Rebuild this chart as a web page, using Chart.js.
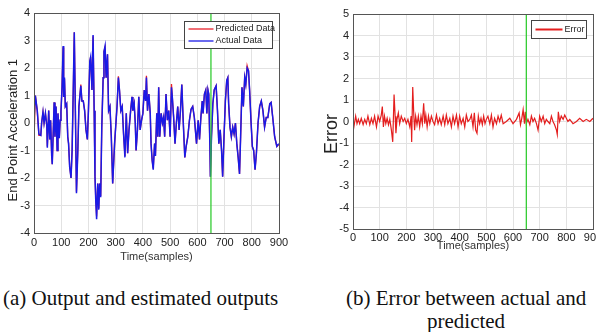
<!DOCTYPE html>
<html>
<head>
<meta charset="utf-8">
<script src="https://cdn.jsdelivr.net/npm/chart.js@4.4.1/dist/chart.umd.min.js"></script>
<style>
  html, body { margin:0; padding:0; background:#fff; overflow:hidden; width:596px; height:332px; }
  canvas { position:absolute; }
  #c1 { left:0; top:0; }
  #c2 { left:300px; top:0; }
  .cap { position:absolute; font-family:"Liberation Serif", "Times New Roman", serif; font-size:21px; line-height:21px; color:#111; white-space:nowrap; }
</style>
</head>
<body>
<canvas id="c1" width="292" height="265"></canvas>
<canvas id="c2" width="310" height="254"></canvas>
<div class="cap" style="left:3px; top:288px;">(a) Output and estimated outputs</div>
<div class="cap" style="left:346px; top:288px;">(b) Error between actual and</div>
<div class="cap" style="left:427px; top:311px;">predicted</div>
<script>
// samples
var samples = [0,5,12,18,25,28,33,37,42,47,49,54,58,61,65,67,74,77,81,85,88,93,96,99,103,107,109,112,115,120,
  124,127,131,136,140,145,148,152,156,161,165,172,176,181,186,191,196,200,205,208,213,217,221,224,227,230,234,238,241,245,
  249,254,257,261,265,270,274,279,284,289,296,305,310,314,319,324,329,334,339,344,349,355,360,363,368,372,375,380,385,390,
  395,400,405,410,413,417,422,427,430,434,438,443,446,451,455,458,462,467,472,476,480,485,490,495,500,505,508,513,518,523,
  528,533,538,543,548,554,559,565,571,577,583,589,597,603,608,613,618,621,626,631,635,639,642,646,648,652,657,662,669,674,
  679,684,689,693,698,703,708,712,715,720,725,730,735,740,745,750,755,759,764,769,774,778,783,788,792,797,802,807,812,817,
  823,829,835,841,847,853,859,866,871,877,884,892,899]

var actual = [0.1,1.0,0.45,-0.4,-0.45,0,0.4,0,0.35,-0.1,-0.9,0.45,-0.6,0.1,-1.2,-1.5,0.75,-0.5,0.6,-1.0,0.35,-0.55,0.1,0.4,1.3,2.8,0.95,1.65,0.6,0.7,
  -0.5,-0.75,-1.6,-2.0,-1.0,1.65,3.3,0.45,-2.55,-1.0,0.6,1.35,0.8,0.8,0.45,-0.25,-0.6,0.45,2.25,2.4,1.2,3.2,0.45,-1.95,-2.85,-3.5,-2.2,-3.15,-2.2,-2.7,
  -0.15,1.65,2.6,2.8,1.65,2.5,0.45,0.6,-0.5,-2.2,-0.75,0.6,1.65,1.2,0.45,0.6,-0.4,-1.25,0.35,-1.1,-0.25,0.45,0.95,0.45,0.7,0,-1.0,-0.25,0.95,-0.25,
  0.1,0.35,1.2,0.8,1.65,0.45,1.05,0.35,-0.75,-1.35,-1.7,-0.75,-1.2,0.35,-0.5,1.3,-0.5,0.35,0,0.2,-0.5,1.05,0.1,0.45,-0.5,1.3,0.95,0.2,-0.75,0,
  0.6,-0.25,0.45,1.4,0.1,-1.25,-0.85,-0.5,0.1,0.5,0.6,0.2,-0.75,0.1,-0.6,0.2,0.8,0.35,1.05,1.2,0.35,1.2,1.05,-0.75,-1.95,-0.5,0.7,1.2,1.35,0.45,
  -0.75,-0.25,-1.0,-1.95,-0.5,0.8,1.55,1.65,0.7,-0.15,-0.5,-0.15,-0.4,0,-0.75,-1.25,-1.85,-0.5,1.3,0.6,1.65,1.4,2.0,1.9,1.2,0.1,-0.85,-1.0,-1.7,-1.1,
  0,0.6,0.8,0.45,-0.15,0.2,0.2,0.7,0.75,0.2,-0.5,-0.85,-0.75]

var predicted = [-0.6,1.0,0.45,-0.45,-0.45,0,0.4,0,0.35,-0.1,-0.85,0.45,-0.6,0.1,-1.15,-1.5,0.75,-0.5,0.6,-1.0,0.35,-0.55,0.1,0.4,1.3,2.75,0.95,1.6,0.6,0.7,
  -0.5,-0.75,-1.55,-2.0,-1.0,1.6,3.3,0.45,-2.5,-1.0,0.6,1.4,0.8,0.8,0.45,-0.25,-0.6,0.45,2.2,2.4,1.2,3.15,0.45,-1.9,-2.8,-3.4,-2.2,-3.1,-2.2,-2.65,
  -0.15,1.65,2.6,2.75,1.65,2.5,0.45,0.6,-0.5,-2.2,-0.75,0.6,1.7,1.2,0.45,0.6,-0.4,-1.2,0.35,-1.1,-0.25,0.45,0.95,0.45,0.7,0,-1.0,-0.25,0.95,-0.25,
  0.1,0.35,1.2,0.8,1.72,0.45,1.05,0.35,-0.75,-1.35,-1.65,-0.75,-1.2,0.35,-0.5,1.3,-0.5,0.35,0,0.2,-0.5,1.05,0.1,0.45,-0.5,1.42,0.95,0.2,-0.75,0,
  0.6,-0.25,0.45,1.4,0.1,-1.25,-0.85,-0.5,0.1,0.5,0.6,0.2,-0.75,0.1,-0.6,0.2,0.8,0.35,1.05,1.2,0.35,1.2,1.05,-0.75,-1.95,-0.5,0.7,1.2,1.35,0.45,
  -0.75,-0.25,-1.0,-1.95,-0.5,0.8,1.55,1.65,0.7,-0.15,-0.5,-0.15,-0.4,0,-0.75,-1.25,-1.85,-0.5,1.3,0.6,1.65,1.4,2.08,1.9,1.2,0.1,-0.85,-1.0,-1.7,-1.1,
  0,0.6,0.8,0.45,-0.15,0.2,0.2,0.7,0.75,0.2,-0.5,-0.85,-0.8]

// samples
var errSamples = [0,10,15,20,25,31,38,44,50,56,63,69,75,81,88,94,100,106,110,114,118,123,128,133,138,144,149,154,158,161,
  165,170,175,181,188,194,200,206,213,218,220,224,228,231,235,240,245,250,255,260,265,269,273,278,283,288,294,300,306,313,
  319,325,331,338,344,350,356,363,369,375,381,388,394,400,406,413,419,425,431,438,444,450,455,460,465,470,475,480,485,490,
  495,500,506,513,519,525,531,538,544,550,556,563,575,588,600,613,623,628,633,638,643,646,650,656,663,669,675,681,688,694,
  700,706,713,719,725,731,738,744,750,756,763,766,770,775,781,788,794,800,806,813,825,838,850,863,875,888,900]

var errVals = [-0.5,0.25,-0.1,0.1,-0.1,0.15,-0.15,0.1,-0.1,0.25,-0.15,0.15,-0.1,0.25,-0.25,0.25,0,0.3,0.7,-0.25,0.25,-0.1,0.15,-0.15,0.1,-0.4,-0.95,1.25,0.25,-0.55,
  0.1,0.4,-0.1,0.25,0,0.15,-0.1,0.1,-0.25,0.25,-0.95,1.6,0.3,-0.4,0.25,-0.15,0.25,-0.25,0.25,-0.1,0.85,-0.1,0.3,-0.25,0.25,-0.1,0.25,0,-0.15,0.3,
  -0.1,0.15,-0.15,0.25,-0.15,0.3,-0.1,0.15,-0.25,0.25,-0.1,0.3,-0.25,0.25,-0.1,0.15,-0.25,0.3,0,0.1,0.3,-0.25,0.4,-0.4,-0.55,0.25,-0.1,0.15,-0.15,0.25,
  -0.1,0.1,0.25,-0.1,0.3,-0.25,0.15,-0.1,0.25,0,0.3,-0.1,0,0.15,-0.1,0.1,0.4,-0.15,0.15,0.55,-0.1,0.45,-0.1,0.1,-0.15,0.25,0,0.15,-0.1,-0.4,
  0.25,0,0.25,-0.1,0.1,0,-0.1,0.25,0,-0.15,-0.4,-0.6,0.45,0,0.25,0.1,0.3,0.15,0,0.1,-0.1,0,0.15,0,0.1,0,0.15]

var markerX = 650
var xTicks = [0, 900, 100]
var leftYRange = [-4, 4]
var rightYRange = [-5, 5]

var tickFont = {family: 'Liberation Sans', size: 11}
var gridColor = '#e2e2e2'

// box around the plot area like matlab's axes box
var frame = {
    id: 'frame',
    afterDraw: function(chart) {
        var a = chart.chartArea, ctx = chart.ctx
        ctx.save()
        ctx.strokeStyle = '#555'
        ctx.lineWidth = 1
        ctx.strokeRect(Math.round(a.left) + 0.5, Math.round(a.top) + 0.5, Math.round(a.right - a.left), Math.round(a.bottom - a.top))
        ctx.restore()
    }
}

// legend drawn inside the plot, with a border
var boxLegend = {
    id: 'boxLegend',
    afterDraw: function(chart, args, o) {
        var a = chart.chartArea, ctx = chart.ctx
        var items = chart.data.datasets.filter(function(d) { return d.label })
        var left = Math.round(a.right - o.inset - o.width) + 0.5
        var top = Math.round(a.top + o.top) + 0.5
        var h = o.rowHeight * items.length + o.pad * 2
        ctx.save()
        ctx.fillStyle = '#fff'
        ctx.fillRect(left, top, o.width, h)
        ctx.strokeStyle = '#444'
        ctx.lineWidth = 1
        ctx.strokeRect(left, top, o.width, h)
        ctx.font = o.fontSize + 'px Liberation Sans'
        ctx.textBaseline = 'middle'
        items.forEach(function(d, i) {
            var y = top + o.pad + o.rowHeight * (i + 0.5)
            ctx.strokeStyle = d.borderColor
            ctx.lineWidth = o.lineWidth
            ctx.beginPath()
            ctx.moveTo(left + 4, y)
            ctx.lineTo(left + 4 + o.lineLen, y)
            ctx.stroke()
            ctx.fillStyle = '#222'
            ctx.fillText(d.label, left + o.lineLen + 6, y)
        })
        ctx.restore()
    }
}

function pts(xs, ys) {
    return xs.map(function(x, i) { return {x: x, y: ys[i]} })
}

function markerLine(range) {
    return {
        data: [{x: markerX, y: range[0]}, {x: markerX, y: range[1]}],
        borderColor: '#33cc33',
        borderWidth: 1.3,
        order: 1
    }
}

function make_chart(el, datasets, yRange, sizes) {
    return new Chart(el.getContext('2d'), {
        type: 'line',
        data: {datasets: datasets},
        options: {
            responsive: false,
            animation: false,
            events: [],
            layout: {padding: sizes.padding},
            elements: {point: {radius: 0}, line: {tension: 0}},
            plugins: {
                legend: {display: false},
                tooltip: {enabled: false},
                boxLegend: sizes.legend
            },
            scales: {
                x: {
                    type: 'linear',
                    min: xTicks[0], max: xTicks[1],
                    ticks: {stepSize: xTicks[2], font: tickFont, color: '#222', padding: sizes.xTickPad, maxRotation: 0},
                    grid: {color: gridColor, drawTicks: false},
                    border: {display: false},
                    title: {display: true, text: 'Time(samples)', font: {family: 'Liberation Sans', size: 11}, color: '#333', padding: {top: 0, bottom: sizes.xTitlePad}},
                    afterFit: function(s) { s.height = sizes.xHeight }
                },
                y: {
                    min: yRange[0], max: yRange[1],
                    ticks: {stepSize: 1, font: tickFont, color: '#222', padding: 4},
                    grid: {color: gridColor, drawTicks: false},
                    border: {display: false},
                    title: {display: true, text: sizes.yTitle, font: {family: 'Liberation Sans', size: sizes.yTitleSize}, color: '#222', padding: {top: sizes.yTitlePad, bottom: 0}},
                    afterFit: function(s) { s.width = sizes.yWidth }
                }
            }
        },
        plugins: [frame, boxLegend]
    })
}

make_chart(document.getElementById('c1'), [
        {label: 'Predicted Data', data: pts(samples, predicted), borderColor: '#e8202a', borderWidth: 1.3, order: 3},
        {label: 'Actual Data', data: pts(samples, actual), borderColor: '#1a1ae6', borderWidth: 1.5, order: 2},
        markerLine(leftYRange)
    ], leftYRange, {
        padding: {left: 0, top: 13, right: 13, bottom: 0},
        xHeight: 32, yWidth: 34, xTickPad: 3, xTitlePad: 1,
        yTitle: 'End Point Acceleration 1    ', yTitleSize: 13, yTitlePad: 6,
        legend: {inset: 7, top: 8, width: 88, rowHeight: 12, pad: 1.5, lineLen: 25, fontSize: 9, lineWidth: 1.3}
    })

make_chart(document.getElementById('c2'), [
        {label: 'Error', data: pts(errSamples, errVals), borderColor: '#e41e1e', borderWidth: 1.2, order: 2},
        markerLine(rightYRange)
    ], rightYRange, {
        padding: {left: 0, top: 14, right: 17, bottom: 0},
        xHeight: 25, yWidth: 53, xTickPad: 2, xTitlePad: 1,
        yTitle: 'Error     ', yTitleSize: 18, yTitlePad: 21,
        legend: {inset: 7, top: 6, width: 55, rowHeight: 15, pad: 1.5, lineLen: 27, fontSize: 9, lineWidth: 2}
    })
</script>
</body>
</html>
